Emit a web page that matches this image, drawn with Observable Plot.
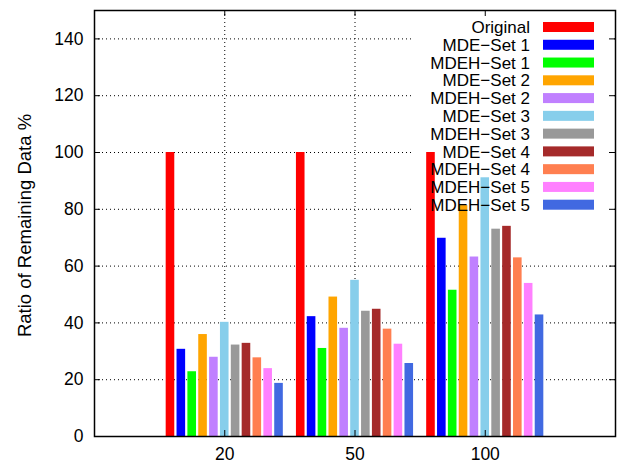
<!DOCTYPE html>
<html>
<head>
<meta charset="utf-8">
<script src="https://cdn.jsdelivr.net/npm/d3@7"></script>
<script src="https://cdn.jsdelivr.net/npm/@observablehq/plot@0.6"></script>
<style>
  body { margin: 0; background: #fff; }
  #chart svg { display: block; }
</style>
</head>
<body>
<div id="chart"></div>
<script>
const groups = ["20", "50", "100"];
const series = ["Original", "MDE\u2212Set 1", "MDEH\u2212Set 1", "MDE\u2212Set 2", "MDEH\u2212Set 2",
  "MDE\u2212Set 3", "MDEH\u2212Set 3", "MDE\u2212Set 4", "MDEH\u2212Set 4", "MDEH\u2212Set 5", "MDEH\u2212Set 5"];
const colors = ["#ff0000", "#0000ff", "#00ff00", "#ffa500", "#c080ff", "#87ceeb",
  "#999999", "#a52a2a", "#ff7f50", "#ff80ff", "#4169e1"];
const values20 = [100, 30.7, 22.8, 35.9, 27.9, 40.2, 32.2, 32.8, 27.7, 23.9, 18.7];
const values50 = [100, 42.2, 31.0, 49.1, 38.1, 55.0, 44.1, 44.8, 37.8, 32.5, 25.7];
const values100 = [100, 69.8, 51.5, 81.3, 63.2, 91.1, 73.0, 74.0, 62.9, 53.9, 42.8];
const yTicks = [0, 20, 40, 60, 80, 100, 120, 140];
const yLabel = "Ratio of Remaining Data %";

const groupValues = [values20, values50, values100];
const nSlots = series.length + 1; // one empty slot as gap between clusters
const halfBar = 0.033;
const data = [];
groupValues.forEach((vals, gi) => {
  vals.forEach((v, si) => {
    const c = gi + (si - (series.length - 1) / 2) / nSlots;
    data.push({group: groups[gi], series: series[si], color: colors[si], value: v, x1: c - halfBar, x2: c + halfBar});
  });
});
const xTicks = groups.map((g, i) => i);

const W = 617, H = 464;
const mL = 94, mR = 2, mT = 10, mB = 28;
const frameW = W - mL - mR, frameH = H - mT - mB;
const tickLen = 6;
const font = "'Liberation Sans', Arial, Helvetica, sans-serif";

const chart = Plot.plot({
  width: W,
  height: H,
  marginLeft: mL,
  marginRight: mR,
  marginTop: mT,
  marginBottom: mB,
  style: {fontSize: "17.5px", fontFamily: font, color: "#000", background: "#fff"},
  x: {type: "linear", domain: [-1, 3], ticks: xTicks, tickFormat: i => groups[i], tickSize: 0, tickPadding: 11, label: null},
  y: {domain: [0, 150], ticks: yTicks, tickSize: 0, tickPadding: 11, label: null},
  color: {type: "identity"},
  marks: [
    Plot.ruleY(yTicks.filter(d => d > 0), {stroke: "#000", strokeWidth: 1, strokeDasharray: "1,3"}),
    Plot.ruleX(xTicks, {stroke: "#000", strokeWidth: 1, strokeDasharray: "1,3"}),
    Plot.rect(data, {x1: "x1", x2: "x2", y1: 0, y2: "value", fill: "color"}),
    Plot.ruleY(yTicks, {stroke: "#000", strokeWidth: 1, insetRight: frameW - tickLen}),
    Plot.ruleY(yTicks, {stroke: "#000", strokeWidth: 1, insetLeft: frameW - tickLen}),
    Plot.ruleX(xTicks, {stroke: "#000", strokeWidth: 1, insetBottom: frameH - tickLen}),
    Plot.ruleX(xTicks, {stroke: "#000", strokeWidth: 1, insetTop: frameH - tickLen}),
    Plot.frame({stroke: "#000", strokeWidth: 1.5})
  ]
});

document.getElementById("chart").appendChild(chart);

const svg = d3.select(chart);

// y-axis title
svg.append("text")
  .attr("transform", "translate(25,225.5) rotate(-90)")
  .attr("text-anchor", "middle").attr("dy", "0.35em")
  .attr("font-family", font).attr("font-size", 18.5).attr("fill", "#000")
  .text(yLabel);

// Key (legend) inside the plot, top right, as in gnuplot
const barsG = chart.querySelector('g[aria-label="rect"]');
const bg = document.createElementNS("http://www.w3.org/2000/svg", "rect");
bg.setAttribute("x", 413);
bg.setAttribute("y", mT + 1);
bg.setAttribute("width", W - mR - 1 - 413);
bg.setAttribute("height", 203);
bg.setAttribute("fill", "#fff");
barsG.parentNode.insertBefore(bg, barsG);

const key = svg.append("g").attr("font-family", font).attr("font-size", 17);
const rowY0 = 27, rowStep = 17.77;
series.forEach((s, i) => {
  const cy = rowY0 + i * rowStep;
  key.append("text")
    .attr("x", 530).attr("y", cy).attr("dy", "0.36em")
    .attr("text-anchor", "end").attr("fill", "#000").text(s);
  key.append("rect")
    .attr("x", 543).attr("y", cy - 5).attr("width", 51).attr("height", 10)
    .attr("fill", colors[i]);
});
</script>
</body>
</html>
